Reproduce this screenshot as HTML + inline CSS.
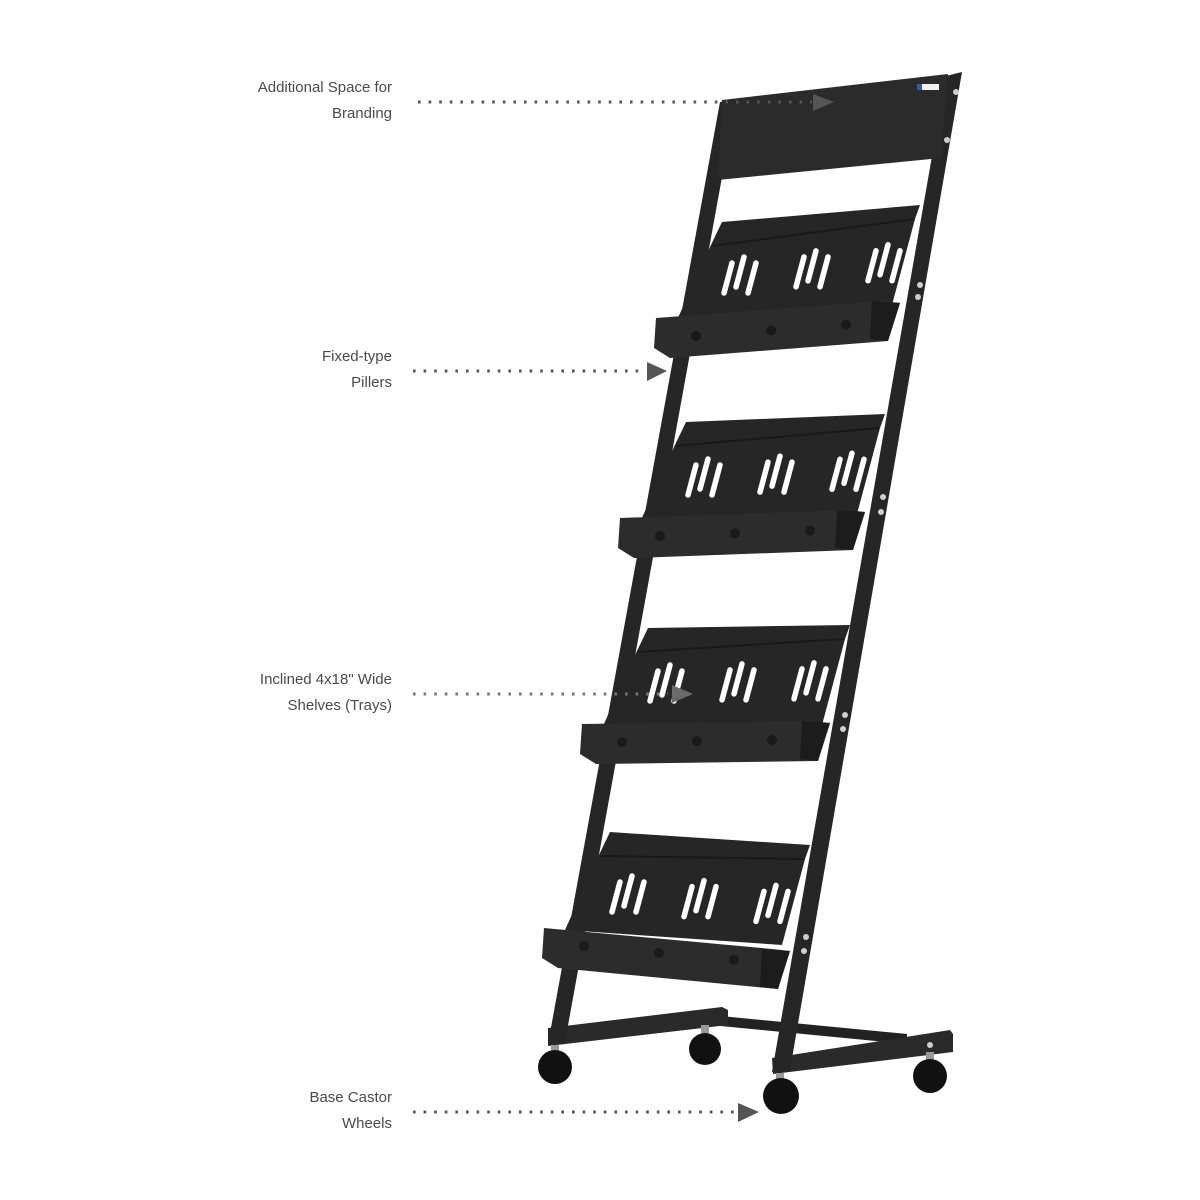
<!DOCTYPE html>
<html><head><meta charset="utf-8"><style>
html,body{margin:0;padding:0;background:#fff;}
.l{position:absolute;right:808px;font-family:"Liberation Sans",sans-serif;font-size:15px;color:#4a4a4a;text-align:right;line-height:26px;white-space:nowrap;}
</style></head><body>
<div style="position:relative;width:1200px;height:1200px;overflow:hidden">
<div class="l" style="top:75px">Additional Space for<br>Branding</div>
<div class="l" style="top:344px">Fixed-type<br>Pillers</div>
<div class="l" style="top:667px">Inclined 4x18" Wide<br>Shelves (Trays)</div>
<div class="l" style="top:1085px">Base Castor<br>Wheels</div>
<svg id="s" width="1200" height="1200" style="position:absolute;left:0;top:0" xmlns="http://www.w3.org/2000/svg">
<!-- base -->
<polygon points="700,1014 907,1034 907,1044 700,1024" fill="#222"/>
<polygon points="548,1028 722,1007 728,1010 728,1025 548,1046" fill="#2a2a2a"/>
<polygon points="772,1058 950,1030 953,1034 953,1052 773,1074" fill="#2a2a2a"/>
<!-- pillars -->
<polygon points="720,102 736,100 565,1042 548,1044" fill="#262626"/>
<polygon points="946,76 962,72 790,1070 772,1072" fill="#262626"/>
<!-- branding panel -->
<polygon points="722,100 948,74 941,158 718,180" fill="#2b2b2b"/>
<rect x="917" y="84" width="22" height="6" fill="#f2f2f2"/>
<rect x="917" y="84" width="5" height="6" fill="#3a5a9a"/>
<g id="shelves"></g>
<!-- screws -->
<g fill="#cfcfcf">
<circle cx="956" cy="92" r="3"/><circle cx="947" cy="140" r="3"/>
<circle cx="920" cy="285" r="3"/><circle cx="918" cy="297" r="3"/>
<circle cx="883" cy="497" r="3"/><circle cx="881" cy="512" r="3"/>
<circle cx="845" cy="715" r="3"/><circle cx="843" cy="729" r="3"/>
<circle cx="806" cy="937" r="3"/><circle cx="804" cy="951" r="3"/>
<circle cx="930" cy="1045" r="3"/>
</g>
<!-- wheels -->
<g fill="#111">
<rect x="551" y="1045" width="8" height="8" fill="#999"/><circle cx="555" cy="1067" r="17"/>
<rect x="701" y="1025" width="8" height="8" fill="#999"/><circle cx="705" cy="1049" r="16"/>
<rect x="776" y="1073" width="8" height="8" fill="#999"/><circle cx="781" cy="1096" r="18"/>
<rect x="926" y="1052" width="8" height="8" fill="#999"/><circle cx="930" cy="1076" r="17"/>
</g>
<!-- dotted leaders -->
<g stroke="#555" stroke-width="3" stroke-dasharray="2.6 8">
<line x1="418" y1="102" x2="812" y2="102"/>
<line x1="413" y1="371" x2="645" y2="371"/>
<line x1="413" y1="694" x2="668" y2="694" stroke="#777"/>
<line x1="413" y1="1112" x2="735" y2="1112"/>
</g>
<g fill="#555">
<polygon points="813,94 834,102 813,111"/>
<polygon points="647,362 667,371 647,381"/>
<polygon points="672,685 693,694 672,703" fill="#6a6a6a"/>
<polygon points="738,1103 759,1112 738,1122"/>
</g>
</svg>
</div>
<script>
var g=document.getElementById('shelves'),ns='http://www.w3.org/2000/svg',h='';
var S=[[722,222,198,-17,53],[686,422,199,-8,55],[648,628,202,-3,55],[610,832,200,13,62]];
function p(a){return a.map(function(q){return q[0]+','+q[1]}).join(' ')}
S.forEach(function(s,i){
 var Lx=s[0],Ly=s[1],Rx=Lx+s[2],Ry=Ly+s[3];
 h+='<polygon points="'+p([[Lx,Ly],[Rx,Ry],[Rx-5,Ry+14],[Rx-28,Ry+100],[Lx-45,Ly+98],[Lx-12,Ly+25]])+'" fill="#262626"/>';
 h+='<line x1="'+(Lx-10)+'" y1="'+(Ly+24)+'" x2="'+(Rx-6)+'" y2="'+(Ry+14)+'" stroke="#1a1a1a" stroke-width="2"/>';
 var TLx=Lx-66,TLy=Ly+96,TRx=Rx-38,TRy=Ry+96+(i==3?8:0);
 h+='<polygon points="'+p([[TLx,TLy],[TRx,TRy],[TRx+18,TRy+2],[TRx+6,TRy+40],[TLx+14,TLy+40],[TLx-2,TLy+30]])+'" fill="#2c2c2c"/>';
 h+='<polygon points="'+p([[TRx-10,TRy],[TRx+18,TRy+2],[TRx+6,TRy+40],[TRx-12,TRy+38]])+'" fill="#1c1c1c"/>';
 [0,1,2].forEach(function(k){
  var cx=Lx+18+k*72,cy=Ly+s[4]+(k*72)/200*s[3];
  [-12,0,12].forEach(function(o,j){
   var yy=cy+(j==1?-3:3),xx=cx+o;
   h+='<line x1="'+(xx+4)+'" y1="'+(yy-15)+'" x2="'+(xx-4)+'" y2="'+(yy+15)+'" stroke="#fff" stroke-width="5.5" stroke-linecap="round"/>';
  });
  var hx=TLx+40+k*75,hy=TLy+18+(k*75)/(TRx-TLx)*(TRy-TLy);
  h+='<circle cx="'+hx+'" cy="'+hy+'" r="5" fill="#1a1a1a"/>';
 });
});
g.innerHTML=h;
</script>
</body></html>
